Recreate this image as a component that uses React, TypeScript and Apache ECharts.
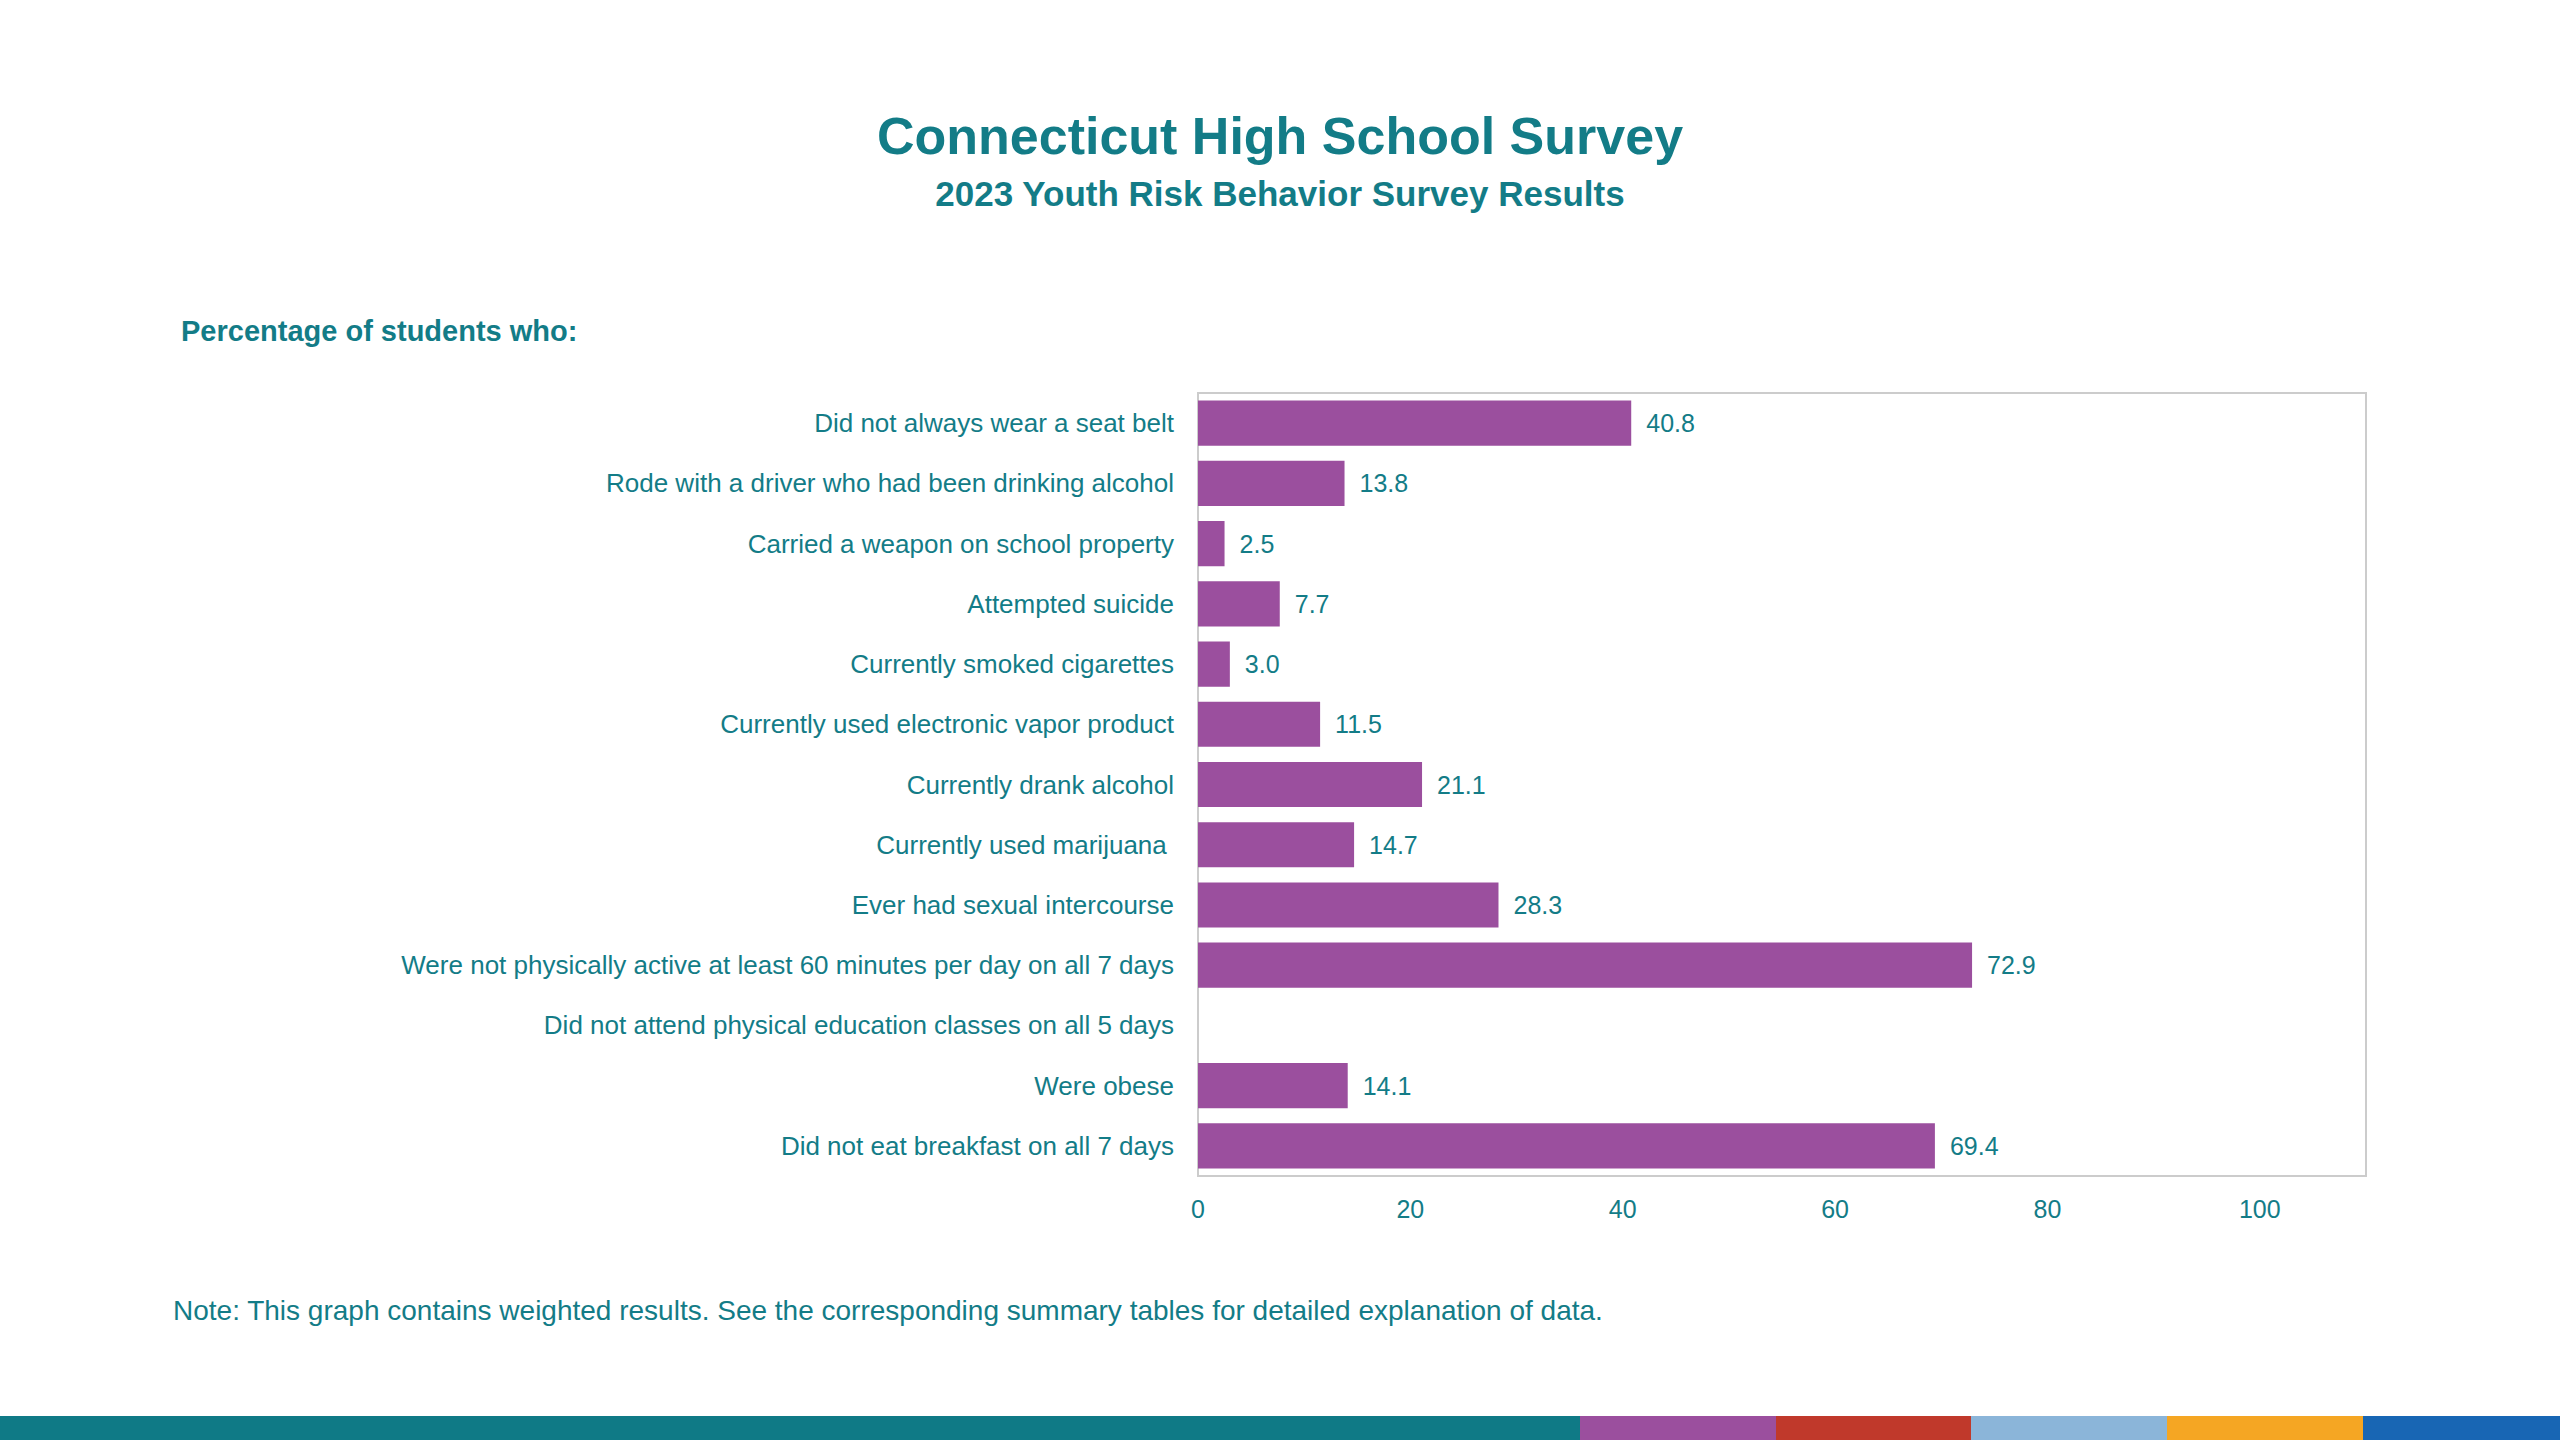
import { useEffect, useRef } from "react";
import * as echarts from "echarts";

const categories = [
  "Did not always wear a seat belt",
  "Rode with a driver who had been drinking alcohol",
  "Carried a weapon on school property",
  "Attempted suicide",
  "Currently smoked cigarettes",
  "Currently used electronic vapor product",
  "Currently drank alcohol",
  "Currently used marijuana ",
  "Ever had sexual intercourse",
  "Were not physically active at least 60 minutes per day on all 7 days",
  "Did not attend physical education classes on all 5 days",
  "Were obese",
  "Did not eat breakfast on all 7 days",
];
const values: (number | null)[] = [40.8, 13.8, 2.5, 7.7, 3.0, 11.5, 21.1, 14.7, 28.3, 72.9, null, 14.1, 69.4];

const TEAL = "#137c87";
const stripes = [
  { x: 0, w: 1580, c: "#0f7a86" },
  { x: 1580, w: 196, c: "#9b4f9e" },
  { x: 1776, w: 195, c: "#c0392b" },
  { x: 1971, w: 196, c: "#8bb5d9" },
  { x: 2167, w: 196, c: "#f5a623" },
  { x: 2363, w: 197, c: "#1866b4" },
];

export default function App() {
  const ref = useRef<HTMLDivElement>(null);
  useEffect(() => {
    if (!ref.current) return;
    const chart = echarts.init(ref.current, null, { renderer: "svg" });
    const font = "Liberation Sans, Arial, sans-serif";
    chart.setOption({
      animation: false,
      backgroundColor: "#fff",
      textStyle: { fontFamily: font },
      title: {
        text: "Connecticut High School Survey",
        subtext: "2023 Youth Risk Behavior Survey Results",
        left: "center",
        top: 105,
        itemGap: 14,
        textStyle: { color: TEAL, fontSize: 52, fontWeight: "bold", fontFamily: font },
        subtextStyle: { color: TEAL, fontSize: 35, fontWeight: "bold", fontFamily: font },
      },
      grid: { left: 1198, right: 194, top: 393, bottom: 264, show: true, borderColor: "#cccccc", borderWidth: 2 },
      xAxis: {
        type: "value",
        min: 0,
        max: 110,
        interval: 20,
        splitLine: { show: false },
        axisLine: { show: false },
        axisTick: { show: false },
        axisLabel: {
          color: TEAL,
          fontSize: 25,
          margin: 20,
          formatter: (v: number) => (v > 100 ? "" : String(v)),
        },
      },
      yAxis: {
        type: "category",
        inverse: true,
        data: categories,
        axisLine: { show: false },
        axisTick: { show: false },
        axisLabel: { color: TEAL, fontSize: 26, margin: 24 },
      },
      series: [
        {
          type: "bar",
          data: values.map((v) => (v === null ? "-" : v)),
          barWidth: "75%",
          itemStyle: { color: "#9b4f9e" },
          label: {
            show: true,
            position: "right",
            distance: 15,
            color: TEAL,
            fontSize: 25,
            formatter: (p: any) => Number(p.value).toFixed(1),
          },
        },
      ],
      graphic: [
        {
          type: "text",
          left: 181,
          top: 316,
          style: { text: "Percentage of students who:", fill: TEAL, font: `bold 29px ${font}` },
        },
        {
          type: "text",
          left: 173,
          top: 1296,
          style: {
            text: "Note: This graph contains weighted results. See the corresponding summary tables for detailed explanation of data.",
            fill: TEAL,
            font: `28px ${font}`,
          },
        },
        ...stripes.map((s) => ({
          type: "rect",
          shape: { x: s.x, y: 1416, width: s.w, height: 24 },
          style: { fill: s.c },
        })),
      ],
    });
    return () => chart.dispose();
  }, []);
  return <div ref={ref} style={{ position: "fixed", left: 0, top: 0, width: 2560, height: 1440 }} />;
}
